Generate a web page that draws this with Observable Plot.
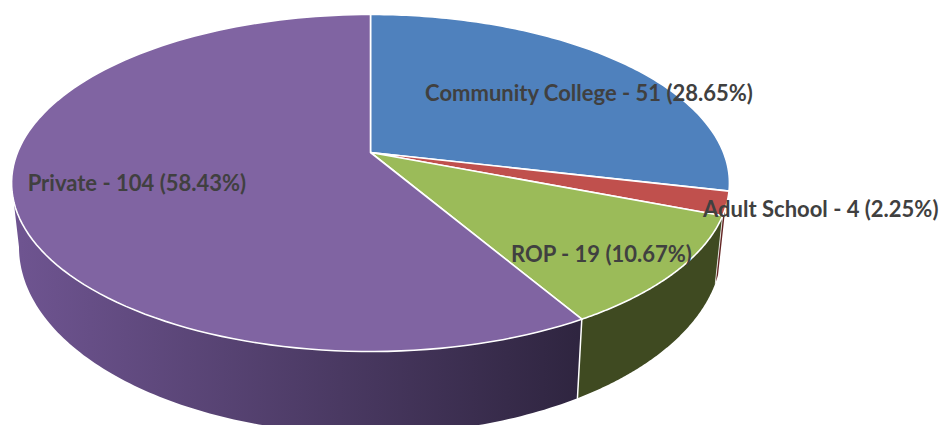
<!DOCTYPE html>
<html><head><meta charset="utf-8">
<style>html,body{margin:0;padding:0;background:#fff;overflow:hidden}svg{display:block}</style>
<script src="https://cdn.jsdelivr.net/npm/d3@7"></script>
<script src="https://cdn.jsdelivr.net/npm/@observablehq/plot@0.6"></script>
</head><body><div id="chart"></div>
<script>
const categories = ["Community College", "Adult School", "ROP", "Private"];
const counts = [51, 4, 19, 104];
const percents = ["28.65", "2.25", "10.67", "58.43"];
const topColors = ["#4f81bd", "#c0504d", "#9bbb59", "#8064a2"];
const sideColors = ["#2f4d70", "#632523", "#3f4a21", "url(#privateSide)"];
const labelOffsets = [[39, 7], [205, 22], [26, 22], [13, 1]];

const total = d3.sum(counts);
const ends = Array.from(d3.cumsum(counts), c => c / total * 2 * Math.PI);
const starts = ends.map((e, i) => (i ? ends[i - 1] : 0));

const k = 0.181;
const topRim = {cx: 370, cy: 152, a: 353, b: 163};
const baseRim = {cx: 370, cy: 212.6, a: 345.7, b: 181};
function project(rim, t, r = 1) {
  const X = r * Math.sin(t), Y = -r * Math.cos(t), d = 1 - k * Y;
  return {x: rim.cx + rim.a * X / d, y: rim.cy + rim.b * Y / d};
}
const arcPts = (rim, t0, t1) => d3.range(0, 121).map(i => project(rim, t0 + (t1 - t0) * i / 120));
const wall = (t0, t1) => [...arcPts(topRim, t0, t1), ...arcPts(baseRim, t0, t1).reverse()];

// The wall of the pie is visible up to the silhouette on the left.
const leftSilhouette = 2 * Math.PI - Math.acos(-k);
const privateWall = wall(starts[3], leftSilhouette);
const adultWall = wall(ends[1] - 0.3 * (ends[1] - starts[1]), ends[1]);
const ropWall = wall(starts[2], ends[2]);

const slices = starts.map((s, i) => [project(topRim, s, 0), ...arcPts(topRim, s, ends[i])]);
const labels = categories.map((c, i) => {
  const p = project(topRim, (starts[i] + ends[i]) / 2, 0.7);
  return {...p, text: `${c} - ${counts[i]} (${percents[i]}%)`, dx: labelOffsets[i][0], dy: labelOffsets[i][1]};
});
const edge = t => [project(topRim, t), project(baseRim, t)];

const ring = (pts, o) => Plot.line(pts, {x: "x", y: "y", ...o});
const chart = Plot.plot({
  width: 940, height: 425,
  margin: 0,
  x: {domain: [0, 940], range: [0, 940], axis: null},
  y: {domain: [0, 425], range: [0, 425], axis: null},
  marks: [
    ring(privateWall, {fill: sideColors[3], curve: "linear-closed", stroke: "none"}),
    ring(adultWall, {fill: sideColors[1], curve: "linear-closed", stroke: "none"}),
    ring(ropWall, {fill: sideColors[2], curve: "linear-closed", stroke: "none"}),
    ring(edge(ends[1]), {stroke: "#fff", strokeWidth: 0.8}),
    ring(edge(ends[2]), {stroke: "#fff", strokeWidth: 1.5}),
    ...slices.map((s, i) => ring(s, {fill: topColors[i], stroke: "#fff", strokeWidth: 1.6, curve: "linear-closed"})),
    ...labels.map(l => Plot.text([l], {
      x: "x", y: "y", text: "text", dx: l.dx, dy: l.dy,
      fontFamily: "Lato", fontWeight: 700, fontSize: 22, fill: "#404040"
    }))
  ]
});
const defs = d3.select(chart).insert("defs", ":first-child");
const grad = defs.append("linearGradient").attr("id", "privateSide")
  .attr("gradientUnits", "userSpaceOnUse")
  .attr("x1", 20).attr("x2", 577).attr("y1", 0).attr("y2", 0);
grad.append("stop").attr("offset", 0).attr("stop-color", "#6e5490");
grad.append("stop").attr("offset", 1).attr("stop-color", "#2f2540");
document.getElementById("chart").append(chart);
</script></body></html>
